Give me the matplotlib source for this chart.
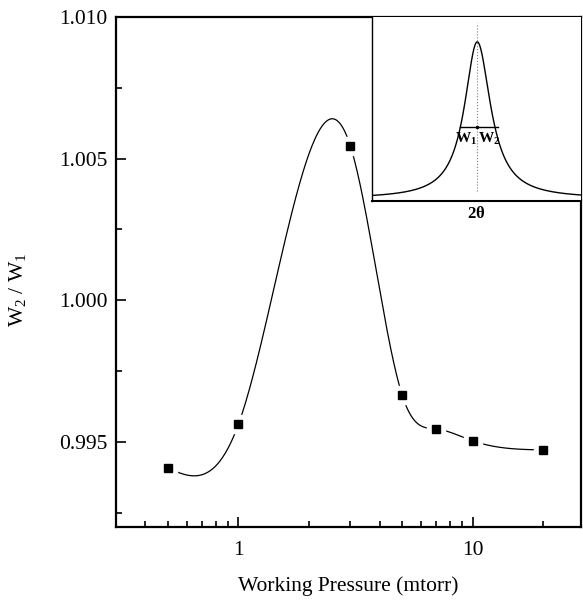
import numpy as np
import matplotlib.pyplot as plt
from matplotlib.ticker import FixedLocator, NullFormatter

plt.rcParams['font.family'] = 'Liberation Serif'
plt.rcParams['mathtext.fontset'] = 'custom'
plt.rcParams['mathtext.rm'] = 'Liberation Serif'
plt.rcParams['mathtext.it'] = 'Liberation Serif'
plt.rcParams['mathtext.bf'] = 'Liberation Serif:bold'

# Measured points
pressure = [0.5, 1, 3, 5, 7, 10, 20]
ratio = [0.99408, 0.99563, 1.00546, 0.99665, 0.99546, 0.99504, 0.99472]

x_ticks = [1, 10]
x_tick_labels = ['1', '10']
y_ticks = [0.995, 1.000, 1.005, 1.010]
y_tick_labels = ['0.995', '1.000', '1.005', '1.010']

# Inset peak sketch parameters (schematic)
peak_center = 0.0
hwhm_left = 1.0
hwhm_right = 1.05


def natural_spline(x, y, xs):
    x = np.asarray(x, float)
    y = np.asarray(y, float)
    n = len(x)
    h = np.diff(x)
    A = np.zeros((n, n))
    rhs = np.zeros(n)
    A[0, 0] = A[-1, -1] = 1
    for i in range(1, n - 1):
        A[i, i - 1] = h[i - 1]
        A[i, i] = 2 * (h[i - 1] + h[i])
        A[i, i + 1] = h[i]
        rhs[i] = 3 * ((y[i + 1] - y[i]) / h[i] - (y[i] - y[i - 1]) / h[i - 1])
    c = np.linalg.solve(A, rhs)
    b = (y[1:] - y[:-1]) / h - h * (2 * c[:-1] + c[1:]) / 3
    d = (c[1:] - c[:-1]) / (3 * h)
    idx = np.clip(np.searchsorted(x, xs) - 1, 0, n - 2)
    t = xs - x[idx]
    return y[idx] + b[idx] * t + c[idx] * t ** 2 + d[idx] * t ** 3


fig = plt.figure(figsize=(5.83, 6.03), dpi=100)
ax = fig.add_axes([0.199, 0.126, 0.7976, 0.846])

# smooth curve through the points in log-x space
lx = np.log10(pressure)
lxs = np.linspace(lx[0], lx[-1], 400)
ax.plot(10 ** lxs, natural_spline(lx, ratio, lxs), color='black', lw=0.9, zorder=2)
ax.plot(pressure, ratio, 's', color='white', ms=13, zorder=3)
ax.plot(pressure, ratio, 's', color='black', ms=6, zorder=4)

ax.set_xscale('log')
ax.set_xlim(0.3, 29)
ax.set_ylim(0.992, 1.010)
ax.xaxis.set_major_locator(FixedLocator(x_ticks))
ax.set_xticklabels(x_tick_labels)
ax.xaxis.set_minor_locator(FixedLocator([0.4, 0.5, 0.6, 0.7, 0.8, 0.9, 2, 3, 4, 5, 6, 7, 8, 9, 20]))
ax.xaxis.set_minor_formatter(NullFormatter())
ax.set_yticks(y_ticks)
ax.set_yticklabels(y_tick_labels)
ax.set_yticks([0.9925, 0.9975, 1.0025, 1.0075], minor=True)
ax.tick_params(which='both', direction='in', labelsize=15.5, width=1.2, top=False, right=False)
ax.tick_params(which='major', length=7)
ax.tick_params(which='minor', length=4)
ax.tick_params(axis='x', pad=10)
ax.tick_params(axis='y', pad=6)
for s in ax.spines.values():
    s.set_linewidth(1.6)

ax.set_xlabel('Working Pressure (mtorr)', fontsize=15.5, labelpad=12)
ax.set_ylabel(r'W$_2$ / W$_1$', fontsize=15.5)
ax.yaxis.set_label_coords(-0.19, 0.465)

# inset sketch
ins = fig.add_axes([0.638, 0.667, 0.3585, 0.305])
xs = np.linspace(-6.8, 6.7, 600)
w = np.where(xs < peak_center, hwhm_left, hwhm_right)
prof = 1.0 / (1.0 + ((xs - peak_center) / w) ** 2)
ins.plot(xs, prof, color='black', lw=1.0)
ins.plot([peak_center, peak_center], [0.05, 1.12], color='gray', lw=0.8, ls=':')
ins.plot([-1.1, 1.35], [0.46, 0.46], color='black', lw=1.0)
ins.plot([peak_center], [0.46], '.', color='black', ms=3)
ins.text(-0.75, 0.38, r'$\mathbf{W}_{\mathbf{1}}$', ha='center', va='center', fontsize=11)
ins.text(0.75, 0.38, r'$\mathbf{W}_{\mathbf{2}}$', ha='center', va='center', fontsize=11)
ins.set_xlim(-6.8, 6.7)
ins.set_ylim(-0.013, 1.159)
ins.set_xticks([])
ins.set_yticks([])
ins.set_xlabel(r'$\mathbf{2\theta}$', fontsize=12, labelpad=4)
ins.spines['top'].set_visible(False)
ins.spines['right'].set_visible(False)
ins.spines['left'].set_linewidth(1.0)
ins.spines['bottom'].set_linewidth(1.5)

fig.savefig('out.png', dpi=100)
